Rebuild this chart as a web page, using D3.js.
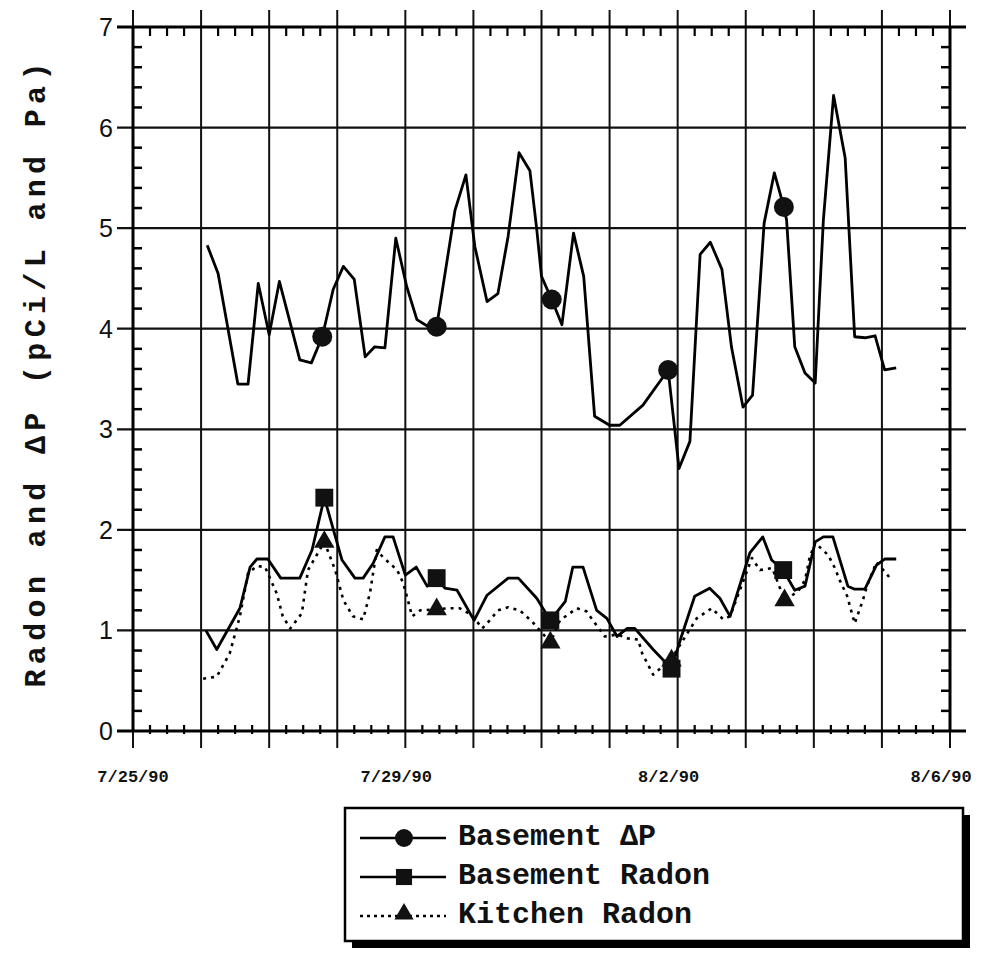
<!DOCTYPE html>
<html>
<head>
<meta charset="utf-8">
<script src="https://cdn.jsdelivr.net/npm/d3@7"></script>
<style>
  html, body { margin: 0; padding: 0; background: #fff; }
  svg { display: block; }
</style>
</head>
<body>
<svg id="chart" width="993" height="953"></svg>
<script>
// ---------------- DATA (days after 7/25/90 00:00, values in pCi/L or Pa) ----------------
const xTickLabels = ["7/25/90", "7/29/90", "8/2/90", "8/6/90"];
const xTickDays = [0, 4, 8, 12];
const yTickValues = [0, 1, 2, 3, 4, 5, 6, 7];

const dpDays = [1.09,1.25,1.54,1.69,1.84,2.00,2.15,2.45,2.62,2.78,2.94,3.09,3.25,3.41,3.55,3.70,3.86,4.02,4.17,4.34,4.46,4.73,4.89,5.02,5.20,5.36,5.51,5.67,5.83,5.93,6.00,6.15,6.30,6.47,6.62,6.78,7.00,7.15,7.49,7.86,8.02,8.18,8.33,8.48,8.65,8.79,8.96,9.10,9.27,9.42,9.56,9.60,9.72,9.87,10.02,10.14,10.29,10.46,10.60,10.75,10.90,11.04,11.21];
const dpValues = [4.83,4.55,3.45,3.45,4.45,3.94,4.47,3.69,3.66,3.92,4.39,4.62,4.49,3.72,3.82,3.81,4.90,4.42,4.09,4.02,4.02,5.18,5.53,4.82,4.27,4.35,4.92,5.75,5.57,4.99,4.52,4.29,4.04,4.95,4.52,3.13,3.04,3.04,3.24,3.59,2.61,2.88,4.74,4.86,4.59,3.82,3.22,3.34,5.05,5.55,5.21,5.08,3.82,3.56,3.46,5.08,6.32,5.70,3.92,3.91,3.93,3.59,3.61];
const dpMarkDays = [2.78, 4.46, 6.15, 7.86, 9.56];
const dpMarkValues = [3.92, 4.02, 4.29, 3.59, 5.21];

const bRnDays = [1.07,1.23,1.57,1.72,1.82,1.98,2.17,2.45,2.63,2.81,3.07,3.26,3.38,3.53,3.70,3.82,4.00,4.16,4.32,4.46,4.58,4.76,5.01,5.20,5.51,5.66,5.93,6.13,6.35,6.46,6.61,6.81,6.96,7.11,7.26,7.37,7.64,7.91,8.05,8.25,8.47,8.62,8.77,9.06,9.25,9.38,9.55,9.72,9.87,10.02,10.14,10.28,10.50,10.60,10.75,10.92,11.04,11.21];
const bRnValues = [1.00,0.81,1.22,1.63,1.71,1.71,1.52,1.52,1.80,2.32,1.70,1.52,1.52,1.67,1.93,1.93,1.55,1.63,1.44,1.52,1.42,1.40,1.10,1.35,1.52,1.52,1.32,1.10,1.29,1.63,1.63,1.20,1.12,0.94,1.02,1.02,0.81,0.62,0.93,1.34,1.42,1.32,1.14,1.77,1.93,1.70,1.60,1.40,1.44,1.88,1.93,1.93,1.44,1.41,1.41,1.65,1.71,1.71];
const bRnMarkDays = [2.81, 4.46, 6.13, 7.91, 9.55];
const bRnMarkValues = [2.32, 1.52, 1.10, 0.62, 1.60];

const kRnDays = [1.03,1.23,1.42,1.57,1.69,1.82,1.94,2.11,2.20,2.31,2.48,2.57,2.81,2.97,3.09,3.23,3.38,3.48,3.58,3.67,3.88,3.97,4.10,4.22,4.46,4.63,4.80,4.98,5.13,5.24,5.36,5.51,5.68,5.86,6.13,6.27,6.52,6.66,6.81,6.93,7.11,7.27,7.42,7.48,7.64,7.91,8.28,8.50,8.67,8.77,9.09,9.21,9.39,9.57,9.77,9.87,9.94,10.02,10.21,10.31,10.38,10.49,10.60,10.72,10.78,10.92,11.12];
const kRnValues = [0.52,0.54,0.77,1.14,1.57,1.64,1.63,1.37,1.14,1.02,1.17,1.60,1.88,1.60,1.30,1.14,1.11,1.37,1.80,1.73,1.60,1.47,1.14,1.20,1.21,1.22,1.22,1.15,1.02,1.10,1.20,1.23,1.20,1.09,0.88,1.10,1.22,1.19,1.05,0.94,0.96,0.92,0.91,0.77,0.56,0.72,1.12,1.22,1.11,1.14,1.72,1.60,1.62,1.30,1.39,1.50,1.73,1.87,1.75,1.62,1.50,1.34,1.07,1.30,1.44,1.68,1.52];
const kRnMarkDays = [2.81, 4.46, 6.13, 7.91, 9.57];
const kRnMarkValues = [1.88, 1.21, 0.88, 0.70, 1.30];

const legendLabels = ["Basement \u0394P", "Basement Radon", "Kitchen Radon"];
const yTitle = "Radon and \u0394P (pCi/L and Pa)";

// ---------------- SETUP ----------------
const base = new Date(1990, 6, 25);
const toDate = d => new Date(base.getTime() + d * 864e5);
const zip = (ds, vs) => ds.map((d, i) => ({ t: toDate(d), v: vs[i] }));

const svg = d3.select("#chart");
const L = 133, R = 950, T = 27, B = 731;

const x = d3.scaleTime().domain([base, toDate(12)]).range([L, R]);
const y = d3.scaleLinear().domain([0, 7]).range([B, T]);

const g = svg.append("g");

// vertical grid lines (each day), extending beyond frame
const dayDates = d3.range(0, 13).map(toDate);
g.selectAll(".vgrid").data(dayDates).enter().append("line")
  .attr("x1", d => x(d)).attr("x2", d => x(d))
  .attr("y1", 10).attr("y2", 748)
  .attr("stroke", "#111").attr("stroke-width", 2);

// horizontal grid lines
g.selectAll(".hgrid").data(yTickValues).enter().append("line")
  .attr("x1", 117).attr("x2", 966)
  .attr("y1", d => y(d)).attr("y2", d => y(d))
  .attr("stroke", "#111").attr("stroke-width", 2.2);

// frame
g.append("line").attr("x1", L).attr("x2", L).attr("y1", T).attr("y2", B).attr("stroke", "#000").attr("stroke-width", 3);
g.append("line").attr("x1", R).attr("x2", R).attr("y1", T).attr("y2", B).attr("stroke", "#000").attr("stroke-width", 3);
g.append("line").attr("x1", 117).attr("x2", 966).attr("y1", T).attr("y2", T).attr("stroke", "#000").attr("stroke-width", 3);
g.append("line").attr("x1", 117).attr("x2", 966).attr("y1", B).attr("y2", B).attr("stroke", "#000").attr("stroke-width", 3);

// minor y ticks (every 0.2) on left and right, inward
const yMinor = d3.range(0, 7.001, 0.2).filter(v => Math.abs(v - Math.round(v)) > 1e-6);
g.selectAll(".ymL").data(yMinor).enter().append("line")
  .attr("x1", L).attr("x2", L + 9).attr("y1", d => y(d)).attr("y2", d => y(d))
  .attr("stroke", "#000").attr("stroke-width", 2.5);
g.selectAll(".ymR").data(yMinor).enter().append("line")
  .attr("x1", R - 9).attr("x2", R).attr("y1", d => y(d)).attr("y2", d => y(d))
  .attr("stroke", "#000").attr("stroke-width", 2.5);

// minor x ticks (every 6 hours)
const xMinor = d3.range(0, 12.001, 0.25).filter(v => Math.abs(v - Math.round(v)) > 1e-6).map(toDate);
g.selectAll(".xmT").data(xMinor).enter().append("line")
  .attr("x1", d => x(d)).attr("x2", d => x(d)).attr("y1", T).attr("y2", T + 9)
  .attr("stroke", "#000").attr("stroke-width", 2.2);
g.selectAll(".xmB").data(xMinor).enter().append("line")
  .attr("x1", d => x(d)).attr("x2", d => x(d)).attr("y1", B - 6).attr("y2", B + 3)
  .attr("stroke", "#000").attr("stroke-width", 2.2);

// y tick labels
g.selectAll(".ylab").data(yTickValues).enter().append("text")
  .attr("x", 113).attr("y", d => y(d)).attr("dy", "0.36em")
  .attr("text-anchor", "end")
  .attr("font-family", "'Liberation Sans', Arial, sans-serif")
  .attr("font-size", 25).attr("fill", "#111")
  .text(d => d);

// x tick labels
g.selectAll(".xlab").data(xTickDays).enter().append("text")
  .attr("x", (d, i) => x(toDate(d)) - (i === 0 ? 0 : 9)).attr("y", 782)
  .attr("text-anchor", "middle")
  .attr("font-family", "'Liberation Mono', 'Courier New', monospace")
  .attr("font-weight", "bold").attr("font-size", 17).attr("fill", "#111")
  .text((d, i) => xTickLabels[i]);

// y title
svg.append("text")
  .attr("transform", "translate(45,375) rotate(-90)")
  .attr("text-anchor", "middle")
  .attr("font-family", "'Liberation Mono', 'Courier New', monospace")
  .attr("font-weight", "bold").attr("font-size", 30).attr("fill", "#111")
  .attr("textLength", 625).attr("lengthAdjust", "spacing")
  .text(yTitle);

// ---------------- SERIES ----------------
const line = d3.line().x(d => x(d.t)).y(d => y(d.v));

const dp = zip(dpDays, dpValues);
const bRn = zip(bRnDays, bRnValues);
const kRn = zip(kRnDays, kRnValues);

g.append("path").datum(kRn).attr("d", line).attr("fill", "none")
  .attr("stroke", "#000").attr("stroke-width", 2.6).attr("stroke-dasharray", "3,5")
  .attr("stroke-linejoin", "round");
g.append("path").datum(bRn).attr("d", line).attr("fill", "none")
  .attr("stroke", "#000").attr("stroke-width", 2.8).attr("stroke-linejoin", "round");
g.append("path").datum(dp).attr("d", line).attr("fill", "none")
  .attr("stroke", "#000").attr("stroke-width", 2.8).attr("stroke-linejoin", "round");

// markers
const sq = d3.symbol().type(d3.symbolSquare).size(320);
const tri = d3.symbol().type(d3.symbolTriangle).size(180);

g.selectAll(".mC").data(zip(dpMarkDays, dpMarkValues)).enter().append("circle")
  .attr("cx", d => x(d.t)).attr("cy", d => y(d.v)).attr("r", 10).attr("fill", "#111");
g.selectAll(".mS").data(zip(bRnMarkDays, bRnMarkValues)).enter().append("path")
  .attr("d", sq).attr("transform", d => `translate(${x(d.t)},${y(d.v)})`).attr("fill", "#111");
g.selectAll(".mT").data(zip(kRnMarkDays, kRnMarkValues)).enter().append("path")
  .attr("d", tri).attr("transform", d => `translate(${x(d.t)},${y(d.v)})`).attr("fill", "#111");

// ---------------- LEGEND ----------------
const lg = svg.append("g");
const bx = 345, by = 808, bw = 618, bh = 133;
lg.append("rect").attr("x", bx + 7).attr("y", by + 7).attr("width", bw).attr("height", bh).attr("fill", "#000");
lg.append("rect").attr("x", bx).attr("y", by).attr("width", bw).attr("height", bh)
  .attr("fill", "#fff").attr("stroke", "#000").attr("stroke-width", 2.5);

const rowsY = [838, 877, 916];
const styles = [
  { dash: null, mark: "circle" },
  { dash: null, mark: "square" },
  { dash: "3,4", mark: "triangle" }
];
legendLabels.forEach((lab, i) => {
  const yy = rowsY[i];
  lg.append("line").attr("x1", 360).attr("x2", 446).attr("y1", yy).attr("y2", yy)
    .attr("stroke", "#000").attr("stroke-width", 2.6)
    .attr("stroke-dasharray", styles[i].dash);
  if (styles[i].mark === "circle") {
    lg.append("circle").attr("cx", 404).attr("cy", yy).attr("r", 9).attr("fill", "#111");
  } else if (styles[i].mark === "square") {
    lg.append("path").attr("d", d3.symbol().type(d3.symbolSquare).size(260)).attr("transform", `translate(404,${yy})`).attr("fill", "#111");
  } else {
    lg.append("path").attr("d", d3.symbol().type(d3.symbolTriangle).size(160)).attr("transform", `translate(404,${yy - 2})`).attr("fill", "#111");
  }
  lg.append("text").attr("x", 458).attr("y", yy - 4).attr("dy", "0.36em")
    .attr("font-family", "'Liberation Mono', 'Courier New', monospace")
    .attr("font-weight", "bold")
    .attr("font-size", 30).attr("fill", "#111")
    .text(lab);
});
</script>
</body>
</html>
